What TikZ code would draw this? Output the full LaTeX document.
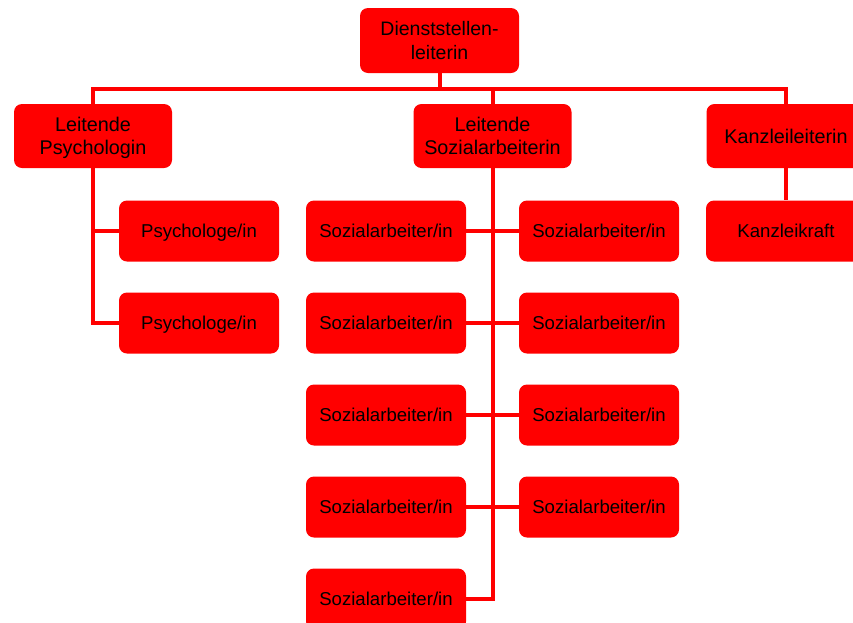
\documentclass[tikz,border=0pt]{standalone}
\usepackage{fontspec}
\setmainfont{Liberation Sans}
\begin{document}
\begin{tikzpicture}[x=1pt,y=1pt,
  box/.style={rectangle, rounded corners=8pt, fill=red, draw=none, inner sep=0pt,
    align=center, text=black, text depth=0pt},
  topbox/.style={box, minimum width=159pt, minimum height=65pt,
    font=\fontsize{19.5}{23.3}\selectfont},
  headbox/.style={box, minimum width=158pt, minimum height=64pt,
    font=\fontsize{19.8}{22.5}\selectfont},
  staffbox/.style={box, minimum width=160pt, minimum height=61pt,
    font=\fontsize{18.6}{22}\selectfont},
  conn/.style={draw=red, line width=4pt}]
\useasboundingbox (0,0) rectangle (853,-622);
\clip (0,0) rectangle (853,-622);
% nodes
\node[topbox] (top) at (439.5,-40.5) {Dienststellen-\\leiterin};
\node[headbox] (lp) at (93,-136) {Leitende\\Psychologin};
\node[headbox] (ls) at (492.5,-136) {Leitende\\Sozialarbeiterin};
\node[headbox, minimum width=159pt] (kl) at (786,-136) {Kanzleileiterin};
\node[staffbox] (kk) at (786,-231) {Kanzleikraft};
\node[staffbox] (p1) at (199,-231) {Psychologe/in};
\node[staffbox] (p2) at (199,-323) {Psychologe/in};
\foreach \i/\y in {1/231,2/323,3/415,4/507,5/599}{
  \node[staffbox] (s\i l) at (386,-\y) {Sozialarbeiter/in};
}
\foreach \i/\y in {1/231,2/323,3/415,4/507}{
  \node[staffbox] (s\i r) at (599,-\y) {Sozialarbeiter/in};
}
% connectors
\coordinate (bus) at (439.5,-89);
\draw[conn] (top.south) -- (bus);
\draw[conn] (bus) -| (lp.north);
\draw[conn] (bus) -| (ls.north);
\draw[conn] (bus) -| (kl.north);
\draw[conn] (lp.south) |- (p2.west);
\draw[conn] (p1.west) -| (lp.south);
\draw[conn] (ls.south) |- (s5l.east);
\foreach \i in {1,2,3,4}{
  \draw[conn] (s\i l.east) -- (s\i r.west);
}
\draw[conn] (kl.south) -- (kk.north);
\end{tikzpicture}
\end{document}
